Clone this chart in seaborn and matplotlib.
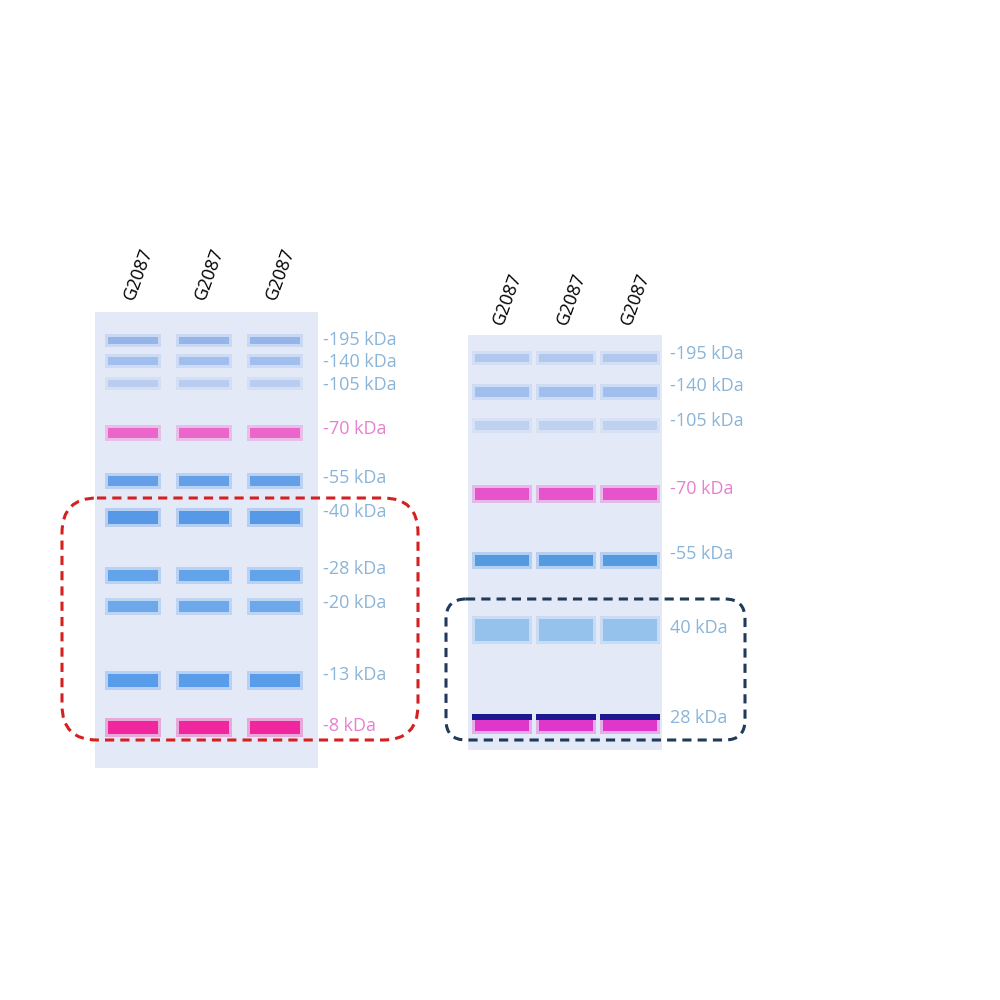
import matplotlib
matplotlib.use("Agg")
import matplotlib.pyplot as plt
import seaborn as sns
from matplotlib.patches import FancyBboxPatch, Rectangle

sns.set_theme(style="white")
plt.rcParams['font.family'] = ['Open Sans', 'DejaVu Sans']

lane_label = "G2087"
# Left gel
left_markers = ["-195 kDa", "-140 kDa", "-105 kDa", "-70 kDa", "-55 kDa", "-40 kDa", "-28 kDa", "-20 kDa", "-13 kDa", "-8 kDa"]
left_band_y = [340, 361, 383, 433, 481, 517, 575, 606, 680, 727]
left_label_y = [340, 362, 385, 429, 478, 512, 569, 603, 675, 726]
left_colors = ["#8fb2ea", "#9dbcee", "#b5cbf0", "#ec5cc8", "#5a9be6", "#4d93e6", "#5a9ee8", "#65a4ea", "#4f98ea", "#f01898"]
left_thick = [7, 8, 7, 10, 10, 13, 11, 11, 13, 13]
left_lanes = [133, 204, 275]
# Right gel
right_markers = ["-195 kDa", "-140 kDa", "-105 kDa", "-70 kDa", "-55 kDa", "40 kDa", "28 kDa"]
right_band_y = [358, 392, 425, 494, 560, 630, 724]
right_label_y = [354, 386, 421, 489, 554, 628, 718]
right_colors = ["#adc5ee", "#9dbcee", "#bcd0f0", "#e848c8", "#4a95e0", "#8fc0ec", "#e02ac8"]
right_thick = [8, 10, 9, 12, 11, 22, 14]
right_lanes = [502, 566, 630]

pink_idx_left = {3, 9}
pink_idx_right = {3}

fig = plt.figure(figsize=(10, 10), dpi=100)
ax = fig.add_axes([0, 0, 1, 1])
ax.set_xlim(0, 1000)
ax.set_ylim(1000, 0)
ax.axis("off")

ax.add_patch(Rectangle((95, 312), 223, 456, color="#e4e9f7", zorder=0, lw=0))
ax.add_patch(Rectangle((468, 335), 194, 415, color="#e4e9f7", zorder=0, lw=0))

def draw(lanes, ys, cols, th, width):
    for x in lanes:
        for y, c, t in zip(ys, cols, th):
            ax.barh(y, width + 6, left=x - (width + 6) / 2, height=t + 6, color=c, alpha=0.3, zorder=1, linewidth=0)
            ax.barh(y, width, left=x - width / 2, height=t, color=c, alpha=0.9, zorder=2, linewidth=0)

draw(left_lanes, left_band_y, left_colors, left_thick, 50)
draw(right_lanes, right_band_y, right_colors, right_thick, 54)
# dark top of 28 kDa band on right
for x in right_lanes:
    ax.barh(717, 60, left=x - 30, height=6, color="#1c1890", zorder=3, linewidth=0)

for i, (lab, y) in enumerate(zip(left_markers, left_label_y)):
    c = "#e87fd0" if i in pink_idx_left else "#8ab4d8"
    ax.text(323, y, lab, color=c, fontsize=13, va="center", ha="left")
for i, (lab, y) in enumerate(zip(right_markers, right_label_y)):
    c = "#e87fd0" if i in pink_idx_right else "#8ab4d8"
    ax.text(670, y, lab, color=c, fontsize=13, va="center", ha="left")

for x in left_lanes:
    ax.text(x + 5, 302, lane_label, rotation=70, ha="center", va="bottom", fontsize=13, color="black")
for x in right_lanes:
    ax.text(x + 5, 327, lane_label, rotation=70, ha="center", va="bottom", fontsize=13, color="black")

ax.add_patch(FancyBboxPatch((62, 498), 356, 242, boxstyle="round,pad=0,rounding_size=35",
                            fill=False, ec="#d42020", lw=2.2, ls=(0, (3, 2)), zorder=5))
ax.add_patch(FancyBboxPatch((446, 599), 299, 141, boxstyle="round,pad=0,rounding_size=20",
                            fill=False, ec="#1f3a5a", lw=2.2, ls=(0, (3, 2)), zorder=5))

fig.savefig("out.png", dpi=100)
